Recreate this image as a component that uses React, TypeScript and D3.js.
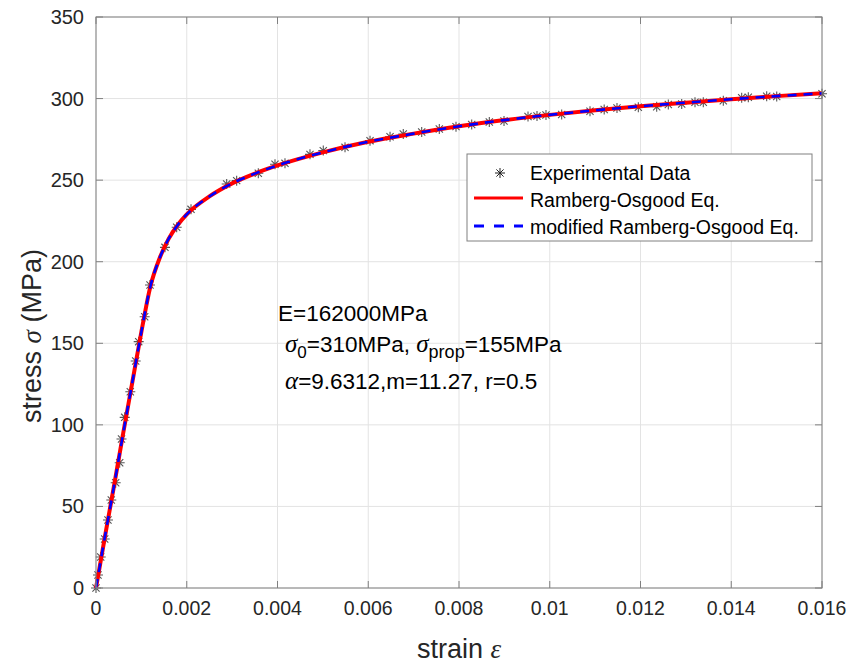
import React from "react";
import * as d3 from "d3";

const width = 852;
const height = 669;
const margin = { top: 17, right: 30, bottom: 81, left: 96 };

// experimental points
const expStrain = [
  0, 0.000044, 0.000104, 0.000192, 0.000264, 0.000337, 0.000434, 0.000522,
  0.000562, 0.000633, 0.000756, 0.000875, 0.000941, 0.001073, 0.00119,
  0.00152, 0.001778, 0.002094, 0.00288, 0.0031, 0.003577, 0.003945, 0.004165,
  0.004716, 0.005009, 0.005488, 0.006039, 0.00648, 0.006772, 0.007178,
  0.007566, 0.007934, 0.00828, 0.008668, 0.008992, 0.009521, 0.009719,
  0.009917, 0.010263, 0.010887, 0.0112, 0.011482, 0.011952, 0.012357,
  0.012613, 0.012908, 0.013201, 0.013384, 0.013825, 0.01423, 0.014376,
  0.014781, 0.015002, 0.016,
];
const expStress = [
  0, 8, 19, 30, 41.7, 53.9, 64.5, 76.8, 91.3, 104.6, 120.3, 139.1, 151, 166.3,
  185.7, 208.8, 221.1, 232.1, 247.6, 249.7, 254.2, 259.7, 260.3, 265.8, 268.1,
  270.1, 274.2, 276.6, 278.3, 279.5, 281.4, 282.8, 284.1, 285.6, 286.3, 289,
  289.3, 289.9, 290.2, 292.2, 293.3, 294.2, 294.7, 295, 296.4, 296.7, 297.7,
  297.7, 298.7, 300.5, 300.8, 301.4, 301.3, 303,
];

// fitted curves (both lie on top of each other)
const curveStrain = [
  0, 0.0002, 0.0004, 0.0006, 0.0008, 0.001, 0.0012, 0.0014, 0.0016, 0.0018,
  0.002, 0.0025, 0.003, 0.0035, 0.004, 0.005, 0.006, 0.007, 0.008, 0.009,
  0.01, 0.011, 0.012, 0.013, 0.014, 0.015, 0.016,
];
const roStress = [
  0, 32, 63, 95, 126, 157, 185, 202, 214, 222.5, 229, 240, 248, 254, 259, 267,
  273.5, 278.5, 283, 286.8, 290, 292.8, 295.3, 297.5, 299.6, 301.5, 303.2,
];
const modStress = [
  0, 32, 63, 95, 126, 157, 185, 202, 214, 222.5, 229, 240, 248, 254, 259, 267,
  273.5, 278.5, 283, 286.8, 290, 292.8, 295.3, 297.5, 299.6, 301.5, 303.2,
];

const strainTicks = [0, 0.002, 0.004, 0.006, 0.008, 0.01, 0.012, 0.014, 0.016];
const strainTickLabels = ["0", "0.002", "0.004", "0.006", "0.008", "0.01", "0.012", "0.014", "0.016"];
const stressTicks = [0, 50, 100, 150, 200, 250, 300, 350];
const legendLabels = ["Experimental Data", "Ramberg-Osgood Eq.", "modified Ramberg-Osgood Eq."];

const sans = "'Liberation Sans', Arial, Helvetica, sans-serif";
const greek = "'Liberation Serif', 'Times New Roman', serif";
const axisColor = "#808080";
const textColor = "#262626";
const starPath = "M-5,0H5M0,-5V5M-3.6,-3.6L3.6,3.6M-3.6,3.6L3.6,-3.6";

export default function App() {
  const x = d3
    .scaleLinear()
    .domain([0, 0.016])
    .range([margin.left, width - margin.right]);
  const y = d3
    .scaleLinear()
    .domain([0, 350])
    .range([height - margin.bottom, margin.top]);

  const line = d3
    .line<number>()
    .x((d, i) => x(curveStrain[i]))
    .y((d) => y(d))
    .curve(d3.curveMonotoneX);

  const x0 = margin.left;
  const x1 = width - margin.right;
  const y0 = height - margin.bottom;
  const y1 = margin.top;
  const tickLen = 7;

  // legend position
  const lg = { x: 467, y: 154, w: 345, h: 87 };

  return (
    <svg
      width={width}
      height={height}
      style={{ position: "absolute", left: 0, top: 0, background: "#fff" }}
    >
      <rect x={0} y={0} width={width} height={height} fill="#fff" />
      <rect x={x0} y={y1} width={x1 - x0} height={y0 - y1} fill="#fff" />

      {/* grid */}
      {strainTicks.map((t) => (
        <line key={"gx" + t} x1={x(t)} x2={x(t)} y1={y1} y2={y0} stroke="#e3e3e3" strokeWidth={1} />
      ))}
      {stressTicks.map((t) => (
        <line key={"gy" + t} x1={x0} x2={x1} y1={y(t)} y2={y(t)} stroke="#e3e3e3" strokeWidth={1} />
      ))}

      {/* experimental data */}
      {expStrain.map((s, i) => (
        <path
          key={"p" + i}
          d={starPath}
          transform={`translate(${x(s)},${y(expStress[i])})`}
          stroke="#555"
          strokeWidth={1.1}
          fill="none"
        />
      ))}

      {/* fitted curves */}
      <path d={line(roStress) || ""} fill="none" stroke="#ff0000" strokeWidth={4} />
      <path
        d={line(modStress) || ""}
        fill="none"
        stroke="#0000ff"
        strokeWidth={2.6}
        strokeDasharray="9 7"
      />

      {/* axes box and ticks */}
      <rect x={x0} y={y1} width={x1 - x0} height={y0 - y1} fill="none" stroke={axisColor} strokeWidth={1} />
      {strainTicks.map((t) => (
        <g key={"tx" + t}>
          <line x1={x(t)} x2={x(t)} y1={y0} y2={y0 - tickLen} stroke={axisColor} />
          <line x1={x(t)} x2={x(t)} y1={y1} y2={y1 + tickLen} stroke={axisColor} />
        </g>
      ))}
      {stressTicks.map((t) => (
        <g key={"ty" + t}>
          <line x1={x0} x2={x0 + tickLen} y1={y(t)} y2={y(t)} stroke={axisColor} />
          <line x1={x1} x2={x1 - tickLen} y1={y(t)} y2={y(t)} stroke={axisColor} />
        </g>
      ))}

      {/* tick labels */}
      {strainTicks.map((t, i) => (
        <text
          key={"lx" + t}
          x={x(t)}
          y={y0 + 27}
          textAnchor="middle"
          fontFamily={sans}
          fontSize={19.5}
          fill={textColor}
        >
          {strainTickLabels[i]}
        </text>
      ))}
      {stressTicks.map((t) => (
        <text
          key={"ly" + t}
          x={x0 - 12}
          y={y(t) + 7}
          textAnchor="end"
          fontFamily={sans}
          fontSize={20}
          fill={textColor}
        >
          {t}
        </text>
      ))}

      {/* axis titles */}
      <text x={(x0 + x1) / 2} y={658} textAnchor="middle" fontFamily={sans} fontSize={27} fill={textColor}>
        strain <tspan fontFamily={greek} fontStyle="italic">ε</tspan>
      </text>
      <text
        transform={`translate(41,336) rotate(-90)`}
        textAnchor="middle"
        fontFamily={sans}
        fontSize={27}
        fill={textColor}
      >
        stress <tspan fontFamily={greek} fontStyle="italic">σ</tspan> (MPa)
      </text>

      {/* legend */}
      <rect x={lg.x} y={lg.y} width={lg.w} height={lg.h} fill="#fff" stroke={axisColor} strokeWidth={1} />
      <path d={starPath} transform={`translate(${lg.x + 33},${lg.y + 19})`} stroke="#222" fill="none" />
      <line x1={lg.x + 7} x2={lg.x + 56} y1={lg.y + 44} y2={lg.y + 44} stroke="#ff0000" strokeWidth={3} />
      <line
        x1={lg.x + 7}
        x2={lg.x + 56}
        y1={lg.y + 72}
        y2={lg.y + 72}
        stroke="#0000ff"
        strokeWidth={3}
        strokeDasharray="10 10"
      />
      {legendLabels.map((l, i) => (
        <text
          key={l}
          x={lg.x + 63}
          y={lg.y + 26 + i * 27}
          fontFamily={sans}
          fontSize={19.5}
          fill="#000"
        >
          {l}
        </text>
      ))}

      {/* annotation */}
      <g fontFamily={sans} fontSize={22.5} fill="#000">
        <text x={278} y={321}>E=162000MPa</text>
        <text x={285} y={352}>
          <tspan fontFamily={greek} fontStyle="italic" fontSize={25}>σ</tspan>
          <tspan fontSize={17} dy={6}>0</tspan>
          <tspan dy={-6}>=310MPa, </tspan>
          <tspan fontFamily={greek} fontStyle="italic" fontSize={25}>σ</tspan>
          <tspan fontSize={18} dy={6}>prop</tspan>
          <tspan dy={-6}>=155MPa</tspan>
        </text>
        <text x={285} y={389}>
          <tspan fontFamily={greek} fontStyle="italic" fontSize={25}>α</tspan>
          <tspan>=9.6312,m=11.27, r=0.5</tspan>
        </text>
      </g>
    </svg>
  );
}
